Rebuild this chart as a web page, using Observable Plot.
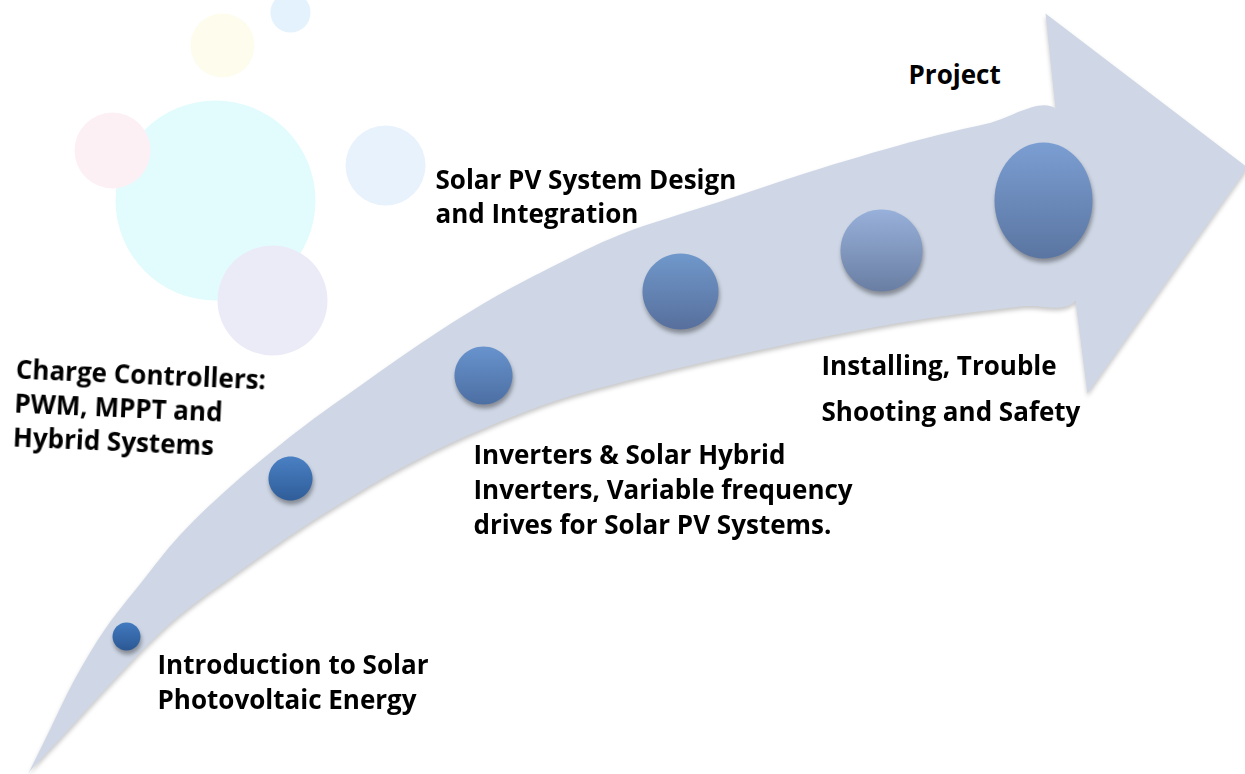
<!DOCTYPE html>
<html>
<head>
<meta charset="utf-8">
<script src="https://cdn.jsdelivr.net/npm/d3@7"></script>
<script src="https://cdn.jsdelivr.net/npm/@observablehq/plot@0.6"></script>
<style>
  html, body { margin: 0; padding: 0; background: #ffffff; }
  #chart svg { display: block; }
</style>
</head>
<body>
<div id="chart"></div>
<script>
// ---- Arrow outline (page pixels) ----
const upperEdgeX = [28, 50, 73, 105, 140, 180, 240, 307, 360, 420, 483, 550, 620, 720, 820, 920, 987, 1055];
const upperEdgeY = [773, 728, 681, 628, 583, 534, 477, 423, 385, 343, 303, 267, 234, 201, 168, 139, 123, 108];
const lowerEdgeX = [1075, 1020, 920, 820, 720, 620, 550, 467, 400, 340, 290, 240, 173, 113, 70, 30];
const lowerEdgeY = [300, 306, 319, 337, 358, 382, 402, 435, 468, 503, 535, 570, 620, 680, 727, 770];
const headX = [1055, 1045, 1247, 1087, 1075];
const headY = [108, 13, 167, 393, 300];

// ---- Milestone bubbles ----
const bubbleX  = [126, 290, 483, 680, 881, 1043];
const bubbleY  = [636, 478, 375, 291, 250, 200];
const bubbleRx = [14, 22, 29, 38, 41, 49];
const bubbleRy = [14, 22, 29, 38, 41, 58];
const bubbleTop    = ["#4279c0", "#4a80c4", "#6893cd", "#7098cb", "#98b1da", "#7b9ed2"];
const bubbleBottom = ["#2b5893", "#2f5d99", "#4c6fa3", "#576f9c", "#6a7ea3", "#5a75a1"];

// ---- Step labels ----
const stepLabels = [
  "Introduction to Solar\nPhotovoltaic Energy",
  "Charge Controllers:\nPWM, MPPT and\nHybrid Systems",
  "Inverters & Solar Hybrid\nInverters, Variable frequency\ndrives for Solar PV Systems.",
  "Solar PV System Design\nand Integration",
  "Installing, Trouble\nShooting and Safety",
  "Project"
];
const stepX = [157, 14, 473, 435, 821, 908];
const stepY = [680, 401, 487, 195, 383, 73];
const stepLineHeight = [1.35, 1.31, 1.35, 1.31, 1.77, 1.3];
const stepRotate = [0, 2.5, 0, 0, 0, 0];

// ---- Faint watermark logo blobs ----
const wmX = [215, 272, 112, 222, 385, 290];
const wmY = [200, 300, 150, 45, 165, 12];
const wmR = [100, 55, 38, 32, 40, 20];
const wmColor = ["#e2fcfd", "#ebebf8", "#fdf0f5", "#fefcec", "#e8f2fc", "#e3f2fc"];

// build tables
const body = [
  ...upperEdgeX.map((x, i) => ({x, y: upperEdgeY[i]})),
  ...lowerEdgeX.map((x, i) => ({x, y: lowerEdgeY[i]}))
];
const head = headX.map((x, i) => ({x, y: headY[i]}));
const bubbles = bubbleX.map((x, i) => ({x, y: bubbleY[i], rx: bubbleRx[i], ry: bubbleRy[i], i}));
const steps = stepLabels.map((t, i) => ({t, x: stepX[i], y: stepY[i], lh: stepLineHeight[i], rot: stepRotate[i]}));
const watermark = wmX.map((x, i) => ({x, y: wmY[i], r: wmR[i], c: wmColor[i]}));

function ellipseSymbol(aspect) {
  return {
    draw(ctx, size) {
      const r = Math.sqrt(size / Math.PI);
      const rx = r, ry = r * aspect, k = 0.5523;
      ctx.moveTo(rx, 0);
      ctx.bezierCurveTo(rx, ry * k, rx * k, ry, 0, ry);
      ctx.bezierCurveTo(-rx * k, ry, -rx, ry * k, -rx, 0);
      ctx.bezierCurveTo(-rx, -ry * k, -rx * k, -ry, 0, -ry);
      ctx.bezierCurveTo(rx * k, -ry, rx, -ry * k, rx, 0);
      ctx.closePath();
    }
  };
}

const bandColor = "#cfd7e6";
const fontFamily = "'Open Sans', 'Noto Sans', sans-serif";

const chart = Plot.plot({
  width: 1245,
  height: 774,
  margin: 0,
  x: {domain: [0, 1245], axis: null},
  y: {domain: [774, 0], axis: null},
  r: {type: "identity"},
  style: {background: "#ffffff", fontFamily},
  marks: [
    Plot.dot(watermark, {x: "x", y: "y", r: "r", fill: "c", stroke: "none"}),
    Plot.line(body, {x: "x", y: "y", fill: bandColor, stroke: "none", curve: "catmull-rom"}),
    Plot.line(head, {x: "x", y: "y", fill: bandColor, stroke: "none", curve: "linear"}),
    ...bubbles.map(b => Plot.dot([b], {
      x: "x", y: "y", r: "rx",
      symbol: ellipseSymbol(b.ry / b.rx),
      fill: `url(#bubble${b.i})`, stroke: "none"
    })),
    ...steps.map(s => Plot.text([s], {
      x: "x", y: "y", text: "t",
      textAnchor: "start", lineAnchor: "middle",
      lineHeight: s.lh, rotate: s.rot,
      fontSize: 26, fontWeight: "bold", fill: "#000000",
      fontFamily
    }))
  ]
});

const svg = d3.select(chart);
const defs = svg.insert("defs", ":first-child");
bubbles.forEach((b, i) => {
  const g = defs.append("linearGradient").attr("id", `bubble${i}`)
    .attr("x1", 0).attr("y1", 0).attr("x2", 0).attr("y2", 1);
  g.append("stop").attr("offset", "0%").attr("stop-color", bubbleTop[i]);
  g.append("stop").attr("offset", "100%").attr("stop-color", bubbleBottom[i]);
});

// group the arrow parts so one soft shadow falls under the lower edge
const lineGroups = svg.selectAll("g[aria-label='line']").nodes();
if (lineGroups.length) {
  const wrap = svg.insert("g", () => lineGroups[0]).style("filter", "drop-shadow(0px 3px 2px rgba(0,0,0,0.22))");
  lineGroups.forEach(n => wrap.node().appendChild(n));
}
// bubble shadows (skip the watermark dots, which come first)
svg.selectAll("g[aria-label='dot']").each(function(d, i) {
  if (i > 0) d3.select(this).style("filter", "drop-shadow(1px 4px 2px rgba(0,0,0,0.35))");
});

document.getElementById("chart").appendChild(chart);
</script>
</body>
</html>
